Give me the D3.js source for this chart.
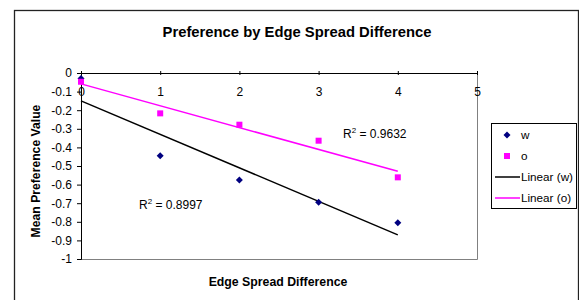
<!DOCTYPE html>
<html>
<head>
<meta charset="utf-8">
<script src="https://cdn.jsdelivr.net/npm/d3@7"></script>
<style>
  body { margin: 0; background: #fff; }
  text { font-family: Arial, "Liberation Sans", sans-serif; }
</style>
</head>
<body>
<div id="chart"></div>
<script>
const xValues = [0, 1, 2, 3, 4]
const wValues = [-0.03, -0.445, -0.575, -0.695, -0.805]
const oValues = [-0.047, -0.217, -0.278, -0.364, -0.561]
const xTicks = [0, 1, 2, 3, 4, 5]
const yTicks = [0, -0.1, -0.2, -0.3, -0.4, -0.5, -0.6, -0.7, -0.8, -0.9, -1]
const legendLabels = ["w", "o", "Linear (w)", "Linear (o)"]

const dimensions = {
  width: 579,
  height: 300,
  margin: { top: 73, right: 102, bottom: 41, left: 81 }
}
dimensions.ctrWidth = dimensions.width - dimensions.margin.left - dimensions.margin.right
dimensions.ctrHeight = dimensions.height - dimensions.margin.top - dimensions.margin.bottom

// least squares fit for trend lines
function fit(xs, ys) {
  const mx = d3.mean(xs), my = d3.mean(ys)
  const sxy = d3.sum(xs, (x, i) => (x - mx) * (ys[i] - my))
  const sxx = d3.sum(xs, x => (x - mx) ** 2)
  const slope = sxy / sxx
  return { slope, intercept: my - slope * mx }
}

const svg = d3.select("#chart").append("svg")
  .attr("width", dimensions.width)
  .attr("height", dimensions.height)

// outer chart frame
svg.append("rect")
  .attr("x", 14.5).attr("y", 10.5)
  .attr("width", 564).attr("height", 300)
  .attr("fill", "none").attr("stroke", "#222").attr("stroke-width", 1.3)

svg.append("text")
  .attr("x", 297).attr("y", 37)
  .attr("text-anchor", "middle")
  .attr("font-size", 14.8).attr("font-weight", "bold")
  .text("Preference by Edge Spread Difference")

const ctr = svg.append("g")
  .attr("transform", `translate(${dimensions.margin.left}, ${dimensions.margin.top})`)

const xScale = d3.scaleLinear().domain([0, 5]).range([0, dimensions.ctrWidth])
const yScale = d3.scaleLinear().domain([-1, 0]).range([dimensions.ctrHeight, 0])

// plot area right/bottom border
ctr.append("path")
  .attr("d", `M0,${dimensions.ctrHeight + 0.5}H${dimensions.ctrWidth + 0.5}V0`)
  .attr("fill", "none").attr("stroke", "#808080")

// y axis
const yAxis = ctr.append("g")
  .call(d3.axisLeft(yScale).tickValues(yTicks).tickSize(4).tickPadding(5).tickFormat(d => String(+d.toFixed(1))))
yAxis.selectAll("text").attr("font-size", 12).attr("font-family", "Arial, 'Liberation Sans', sans-serif").attr("fill", "#000")
yAxis.select(".domain").attr("stroke", "#000")

// x axis at y = 0
const xAxis = ctr.append("g")
  .attr("transform", `translate(0, ${yScale(0)})`)
  .call(d3.axisBottom(xScale).tickValues(xTicks).tickSize(2).tickPadding(12).tickFormat(d => String(d)))
xAxis.selectAll("text").attr("font-size", 12).attr("font-family", "Arial, 'Liberation Sans', sans-serif").attr("fill", "#000")
xAxis.select(".domain").attr("stroke", "#000")
xAxis.selectAll(".tick line").attr("y1", -2)

// trend lines
const fitW = fit(xValues, wValues)
const fitO = fit(xValues, oValues)
const x0 = d3.min(xValues), x1 = d3.max(xValues)
const trendLine = (f, color) => ctr.append("line")
  .attr("x1", xScale(x0)).attr("y1", yScale(f.intercept + f.slope * x0))
  .attr("x2", xScale(x1)).attr("y2", yScale(f.intercept + f.slope * x1))
  .attr("stroke", color).attr("stroke-width", 1.5)
trendLine(fitW, "#000")
trendLine(fitO, "#ff00ff")

// points
ctr.selectAll(".w").data(xValues).join("path")
  .attr("class", "w")
  .attr("transform", (d, i) => `translate(${xScale(d)}, ${yScale(wValues[i])})`)
  .attr("d", "M0,-3.5L3.5,0L0,3.5L-3.5,0Z")
  .attr("fill", "#000080")

ctr.selectAll(".o").data(xValues).join("rect")
  .attr("class", "o")
  .attr("x", d => xScale(d) - 3).attr("y", (d, i) => yScale(oValues[i]) - 3)
  .attr("width", 6).attr("height", 6)
  .attr("fill", "#ff00ff")

// R² labels
const r2Label = (x, y, val) => {
  const t = svg.append("text").attr("x", x).attr("y", y).attr("font-size", 12)
  t.append("tspan").text("R")
  t.append("tspan").attr("font-size", 8).attr("dy", -5).text("2")
  t.append("tspan").attr("dy", 5).text(" = " + val)
}
r2Label(343, 138, "0.9632")
r2Label(139, 209, "0.8997")

// legend
const legend = svg.append("g")
legend.append("rect")
  .attr("x", 491.5).attr("y", 123.5).attr("width", 85).attr("height", 85)
  .attr("fill", "#fff").attr("stroke", "#000")
const ly = d3.scalePoint().domain(legendLabels).range([135, 198])
legend.append("path")
  .attr("transform", `translate(507, ${ly("w")})`)
  .attr("d", "M0,-3.5L3.5,0L0,3.5L-3.5,0Z").attr("fill", "#000080")
legend.append("rect")
  .attr("x", 504).attr("y", ly("o") - 3).attr("width", 6).attr("height", 6).attr("fill", "#ff00ff")
legend.append("line").attr("x1", 495).attr("x2", 520)
  .attr("y1", ly("Linear (w)")).attr("y2", ly("Linear (w)")).attr("stroke", "#000").attr("stroke-width", 1.5)
legend.append("line").attr("x1", 495).attr("x2", 520)
  .attr("y1", ly("Linear (o)")).attr("y2", ly("Linear (o)")).attr("stroke", "#ff00ff").attr("stroke-width", 1.5)
legend.selectAll(".lt").data(legendLabels).join("text")
  .attr("class", "lt")
  .attr("x", 521).attr("y", d => ly(d) + 4)
  .attr("font-size", 11.7)
  .text(d => d)

// axis titles
svg.append("text")
  .attr("x", 278).attr("y", 286)
  .attr("text-anchor", "middle")
  .attr("font-size", 12.3).attr("font-weight", "bold")
  .text("Edge Spread Difference")

svg.append("text")
  .attr("transform", "translate(40, 171) rotate(-90)")
  .attr("text-anchor", "middle")
  .attr("font-size", 12.2).attr("font-weight", "bold")
  .text("Mean Preference Value")
</script>
</body>
</html>
